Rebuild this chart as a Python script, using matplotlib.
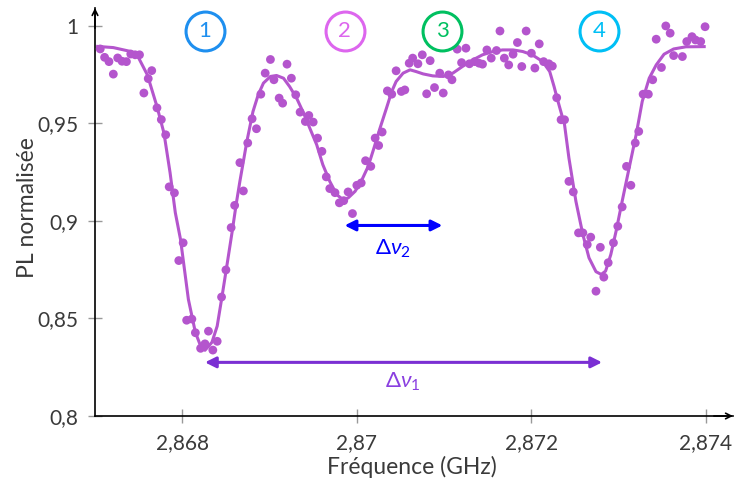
import matplotlib
matplotlib.use("Agg")
import matplotlib.pyplot as plt

plt.rcParams["font.family"] = ["Lato", "DejaVu Sans"]
plt.rcParams["mathtext.fontset"] = "custom"
plt.rcParams["mathtext.rm"] = "Lato"
plt.rcParams["mathtext.it"] = "Lato:italic"

C_PTS = "#b455cd"
C_TXT = "#333333"

# ── measured points ──────────────────────────────────────────────────────────
freq_pts = [2.86706, 2.86711, 2.86716, 2.86721, 2.86726, 2.86731, 2.86736, 2.86741, 2.86746, 2.86751,
            2.86756, 2.86761, 2.86765, 2.86771, 2.86776, 2.86781, 2.86785, 2.86791, 2.86796, 2.86801,
            2.86805, 2.86811, 2.86815, 2.86821, 2.86826, 2.86830, 2.86835, 2.86840, 2.86845, 2.86850,
            2.86856, 2.86860, 2.86866, 2.86870, 2.86875, 2.86880, 2.86885, 2.86890, 2.86895, 2.86901,
            2.86905, 2.86911, 2.86915, 2.86920, 2.86925, 2.86930, 2.86935, 2.86941, 2.86945, 2.86950,
            2.86955, 2.86960, 2.86965, 2.86969, 2.86975, 2.86980, 2.86985, 2.86990, 2.86995, 2.87000,
            2.87005, 2.87010, 2.87016, 2.87021, 2.87025, 2.87029, 2.87035, 2.87040, 2.87045, 2.87051,
            2.87055, 2.87060, 2.87064, 2.87070, 2.87075, 2.87080, 2.87084, 2.87089, 2.87095, 2.87099,
            2.87105, 2.87109, 2.87115, 2.87120, 2.87125, 2.87129, 2.87135, 2.87140, 2.87144, 2.87149,
            2.87154, 2.87160, 2.87164, 2.87169, 2.87174, 2.87179, 2.87184, 2.87189, 2.87194, 2.87200,
            2.87204, 2.87209, 2.87214, 2.87220, 2.87224, 2.87229, 2.87234, 2.87238, 2.87243, 2.87248,
            2.87254, 2.87259, 2.87264, 2.87268, 2.87274, 2.87279, 2.87283, 2.87288, 2.87294, 2.87299,
            2.87304, 2.87309, 2.87314, 2.87319, 2.87323, 2.87328, 2.87334, 2.87339, 2.87343, 2.87349,
            2.87354, 2.87359, 2.87363, 2.87373, 2.87378, 2.87384, 2.87388, 2.87394, 2.87399]

pl_pts = [0.9882, 0.9839, 0.9817, 0.9753, 0.9836, 0.9819, 0.9817, 0.9856, 0.9852, 0.9852,
          0.9656, 0.9730, 0.9771, 0.9580, 0.9520, 0.9442, 0.9175, 0.9144, 0.8797, 0.8888,
          0.8491, 0.8497, 0.8427, 0.8347, 0.8370, 0.8435, 0.8338, 0.8383, 0.8610, 0.8749,
          0.8966, 0.9080, 0.9299, 0.9154, 0.9400, 0.9524, 0.9473, 0.9650, 0.9758, 0.9828,
          0.9724, 0.9630, 0.9604, 0.9804, 0.9732, 0.9647, 0.9558, 0.9510, 0.9541, 0.9507,
          0.9425, 0.9357, 0.9226, 0.9166, 0.9145, 0.9093, 0.9104, 0.9149, 0.9038, 0.9183,
          0.9195, 0.9309, 0.9280, 0.9425, 0.9387, 0.9456, 0.9667, 0.9650, 0.9770, 0.9664,
          0.9672, 0.9809, 0.9835, 0.9806, 0.9852, 0.9652, 0.9822, 0.9684, 0.9758, 0.9656,
          0.9749, 0.9724, 0.9881, 0.9812, 0.9886, 0.9806, 0.9817, 0.9809, 0.9804, 0.9877,
          0.9835, 0.9874, 0.9974, 0.9835, 0.9800, 0.9855, 0.9915, 0.9792, 0.9974, 0.9860,
          0.9784, 0.9908, 0.9817, 0.9806, 0.9794, 0.9632, 0.9519, 0.9519, 0.9203, 0.9149,
          0.8939, 0.8939, 0.8879, 0.8917, 0.8640, 0.8865, 0.8712, 0.8786, 0.8888, 0.8973,
          0.9072, 0.9280, 0.9183, 0.9400, 0.9459, 0.9650, 0.9650, 0.9724, 0.9932, 0.9787,
          1.0000, 0.9963, 0.9848, 0.9843, 0.9920, 0.9945, 0.9928, 0.9920, 0.9996]

# ── fitted curve ─────────────────────────────────────────────────────────────
freq_fit = [2.86703, 2.86721, 2.86741, 2.86750, 2.86760, 2.86771, 2.86779, 2.86786, 2.86792, 2.86798,
            2.86807, 2.86815, 2.86821, 2.86826, 2.86834, 2.86840, 2.86845, 2.86851, 2.86857, 2.86862,
            2.86866, 2.86874, 2.86881, 2.86887, 2.86893, 2.86901, 2.86908, 2.86916, 2.86923, 2.86931,
            2.86939, 2.86946, 2.86954, 2.86961, 2.86969, 2.86977, 2.86984, 2.86990, 2.86998, 2.87005,
            2.87013, 2.87019, 2.87026, 2.87034, 2.87040, 2.87045, 2.87053, 2.87061, 2.87068, 2.87076,
            2.87087, 2.87099, 2.87110, 2.87121, 2.87133, 2.87144, 2.87156, 2.87167, 2.87179, 2.87190,
            2.87201, 2.87213, 2.87221, 2.87226, 2.87230, 2.87238, 2.87243, 2.87251, 2.87259, 2.87266,
            2.87274, 2.87280, 2.87285, 2.87291, 2.87297, 2.87304, 2.87312, 2.87320, 2.87327, 2.87335,
            2.87343, 2.87352, 2.87363, 2.87377, 2.87398]

pl_fit = [0.9895, 0.9889, 0.9869, 0.9836, 0.9749, 0.9587, 0.9451, 0.9248, 0.9043, 0.8905,
          0.8598, 0.8429, 0.8359, 0.8337, 0.8378, 0.8461, 0.8598, 0.8768, 0.8941, 0.9093,
          0.9203, 0.9408, 0.9561, 0.9647, 0.9707, 0.9741, 0.9746, 0.9732, 0.9689, 0.9630,
          0.9553, 0.9477, 0.9391, 0.9289, 0.9203, 0.9135, 0.9110, 0.9118, 0.9152, 0.9203,
          0.9280, 0.9365, 0.9468, 0.9579, 0.9664, 0.9715, 0.9758, 0.9775, 0.9766, 0.9754,
          0.9744, 0.9741, 0.9758, 0.9792, 0.9826, 0.9852, 0.9869, 0.9877, 0.9877, 0.9869,
          0.9852, 0.9817, 0.9766, 0.9689, 0.9621, 0.9493, 0.9323, 0.9101, 0.8930, 0.8811,
          0.8740, 0.8726, 0.8743, 0.8828, 0.8947, 0.9101, 0.9272, 0.9442, 0.9613, 0.9732,
          0.9800, 0.9855, 0.9882, 0.9893, 0.9894]

xtick_vals = [2.868, 2.870, 2.872, 2.874]
xtick_lbls = ["2,868", "2,87", "2,872", "2,874"]
ytick_vals = [0.8, 0.85, 0.9, 0.95, 1.0]
ytick_lbls = ["0,8", "0,85", "0,9", "0,95", "1"]

fig = plt.figure(figsize=(7.34, 4.88), dpi=100)
ax = fig.add_axes([95/734, 72/488, 638/734, 408/488])
ax.set_xlim(2.867, 2.87431)
ax.set_ylim(0.8, 1.0092)

ax.plot(freq_fit, pl_fit, color=C_PTS, lw=2.2, zorder=3)
ax.scatter(freq_pts, pl_pts, s=40, color=C_PTS, edgecolors="none", zorder=4)

# axes with arrow ends
for s in ("top", "right"):
    ax.spines[s].set_visible(False)
for s in ("left", "bottom"):
    ax.spines[s].set_linewidth(1.2)
ax.annotate("", xy=(1.0, 0), xytext=(0.97, 0), xycoords="axes fraction",
            arrowprops=dict(arrowstyle="->", lw=1.2, color="black",
                            shrinkA=0, shrinkB=0), annotation_clip=False)
ax.annotate("", xy=(0, 1.0), xytext=(0, 0.95), xycoords="axes fraction",
            arrowprops=dict(arrowstyle="->", lw=1.2, color="black",
                            shrinkA=0, shrinkB=0), annotation_clip=False)

ax.set_xticks(xtick_vals)
ax.set_xticklabels(xtick_lbls)
ax.set_yticks(ytick_vals)
ax.set_yticklabels(ytick_lbls)
ax.tick_params(direction="inout", length=10, width=1, color="#999999",
               labelcolor="#3a3a3a", labelsize=15, pad=7)

fig.text(412/734, (488-467)/488, "Fréquence (GHz)", fontsize=16.5,
         color="#3a3a3a", ha="center", va="center")
fig.text(28/734, (488-208)/488, "PL normalisée", fontsize=16.5,
         color="#3a3a3a", ha="center", va="center", rotation=90)

# ── circled peak numbers ─────────────────────────────────────────────────────
for lbl, xc, col in [("1", 2.86826, "#1e8fef"), ("2", 2.86986, "#dd66ee"),
                     ("3", 2.87098, "#00c060"), ("4", 2.87278, "#00bff5")]:
    ax.plot(xc, 0.9974, "o", ms=28, mfc="white", mec=col, mew=2.2,
            zorder=5, clip_on=False)
    ax.text(xc, 0.9974, lbl, ha="center", va="center", fontsize=16,
            color=col, zorder=6)

# ── splitting arrows ─────────────────────────────────────────────────────────
ax.annotate("", xy=(2.87098, 0.8977), xytext=(2.86986, 0.8977),
            arrowprops=dict(arrowstyle="<|-|>", color="#0000ff", lw=2.2,
                            mutation_scale=16, shrinkA=0, shrinkB=0), zorder=5)
ax.text(2.87041, 0.8859, r"$\Delta\nu_2$", ha="center", va="center",
        fontsize=16, color="#0000ff")

ax.annotate("", xy=(2.87281, 0.8275), xytext=(2.86826, 0.8275),
            arrowprops=dict(arrowstyle="<|-|>", color="#7b2fd3", lw=2.2,
                            mutation_scale=16, shrinkA=0, shrinkB=0), zorder=5)
ax.text(2.87053, 0.8173, r"$\Delta\nu_1$", ha="center", va="center",
        fontsize=16, color="#8a3fe0")

fig.savefig("out.png", dpi=100)
